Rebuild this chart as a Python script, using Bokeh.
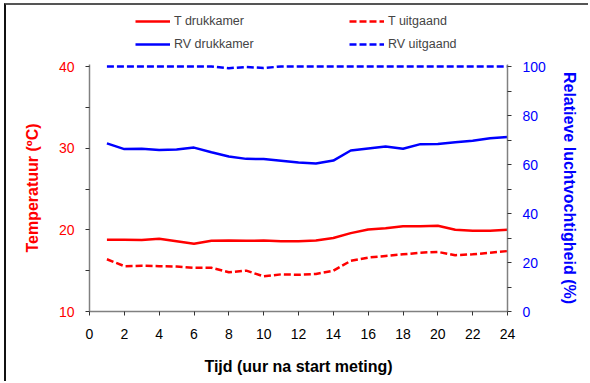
from bokeh.plotting import figure
from bokeh.layouts import column
from bokeh.models import Range1d, LinearAxis, FixedTicker, Legend, LegendItem, ColumnDataSource
from bokeh.embed import file_html
from bokeh.resources import INLINE

# ---- data ----
hours = list(range(1, 25))
t_drukkamer = [18.8, 18.8, 18.75, 18.9, 18.6, 18.3, 18.65, 18.7, 18.65, 18.7, 18.6, 18.6,
               18.7, 19.0, 19.6, 20.05, 20.2, 20.45, 20.45, 20.5, 20.0, 19.9, 19.9, 20.0]
t_uitgaand = [16.4, 15.55, 15.6, 15.55, 15.5, 15.35, 15.35, 14.8, 15.0, 14.3, 14.55, 14.5,
              14.6, 15.0, 16.2, 16.6, 16.8, 17.0, 17.2, 17.3, 16.9, 17.0, 17.2, 17.4]
rv_drukkamer = [68.6, 66.3, 66.4, 65.9, 66.1, 66.9, 65.0, 63.3, 62.3, 62.2, 61.5, 60.8,
                60.4, 61.6, 65.7, 66.5, 67.3, 66.4, 68.3, 68.4, 69.1, 69.7, 70.7, 71.2]
rv_uitgaand = [100, 100, 100, 100, 100, 100, 100, 99.3, 99.8, 99.4, 100, 100,
               100, 100, 100, 100, 100, 100, 100, 100, 100, 100, 100, 100]
series_labels = ["T drukkamer", "T uitgaand", "RV drukkamer", "RV uitgaand"]
x_ticks = list(range(0, 25, 2))
t_ticks = [10, 20, 30, 40]
t_minor = [15, 25, 35]
rv_ticks = [0, 20, 40, 60, 80, 100]
rv_minor = [10, 30, 50, 70, 90]

RED = "#FF0000"
BLUE = "#0000FF"
FONT = "Liberation Sans"
DASH = "7 3"
LW = 2.5

# frame is 245 px for 30 degC; 2 px extra on top so the 100 % line is not clipped
T_TOP = 40 + 2 * 30 / 245
RV_TOP = (T_TOP - 10) * 100 / 30

src = ColumnDataSource(dict(x=hours, td=t_drukkamer, tu=t_uitgaand, rd=rv_drukkamer, ru=rv_uitgaand))

# ---------------- legend strip ----------------
# same series, but in a y range where they stay out of view: only their legend glyphs show
lf = figure(width=584, height=50, output_backend="svg", toolbar_location=None,
            x_range=Range1d(0, 24), y_range=Range1d(1000, 1001),
            x_axis_location=None, y_axis_location=None,
            min_border_left=0, min_border_right=0, min_border_top=0, min_border_bottom=0,
            styles={"border-left": "2px solid #111111", "border-top": "2px solid #555555",
                    "margin-left": "4px", "margin-top": "3px"})
lf.outline_line_color = None
lf.grid.visible = False
lf.border_fill_color = "white"
d1 = lf.line("x", "td", source=src, line_color=RED, line_width=LW)
d2 = lf.line("x", "tu", source=src, line_color=RED, line_width=LW, line_dash=DASH)
d3 = lf.line("x", "rd", source=src, line_color=BLUE, line_width=LW)
d4 = lf.line("x", "ru", source=src, line_color=BLUE, line_width=LW, line_dash=DASH)

def make_legend(items, x):
    return Legend(items=items, location=(x, 1), orientation="vertical",
                  padding=0, margin=0, spacing=3, glyph_width=35, glyph_height=20,
                  label_standoff=4, border_line_color=None, background_fill_alpha=0,
                  label_text_font=FONT, label_text_font_size="12.5px")

lf.add_layout(make_legend([LegendItem(label=series_labels[0], renderers=[d1]),
                           LegendItem(label=series_labels[2], renderers=[d3])], 46), "center")
lf.add_layout(make_legend([LegendItem(label=series_labels[1], renderers=[d2]),
                           LegendItem(label=series_labels[3], renderers=[d4])], 260), "center")

# ---------------- main chart ----------------
p = figure(width=584, height=328, output_backend="svg", toolbar_location=None,
           x_range=Range1d(0, 24), y_range=Range1d(10, T_TOP),
           min_border_left=83, min_border_right=83, min_border_top=11, min_border_bottom=70,
           x_axis_label="Tijd (uur na start meting)", y_axis_label="Temperatuur (ºC)",
           styles={"border-left": "2px solid #111111", "margin-left": "4px"})
p.extra_y_ranges = {"rv": Range1d(0, RV_TOP)}
p.outline_line_color = None
p.grid.visible = False
p.background_fill_color = "white"
p.border_fill_color = "white"

p.line("x", "td", source=src, line_color=RED, line_width=LW)
p.line("x", "tu", source=src, line_color=RED, line_width=LW, line_dash=DASH)
p.line("x", "rd", source=src, line_color=BLUE, line_width=LW, y_range_name="rv")
p.line("x", "ru", source=src, line_color=BLUE, line_width=LW, line_dash=DASH, y_range_name="rv")

right = LinearAxis(y_range_name="rv", axis_label="Relatieve luchtvochtigheid (%)")
p.add_layout(right, "right")

def style_axis(ax, color, ticks, minor, label_standoff, title_standoff):
    ax.ticker = FixedTicker(ticks=ticks, minor_ticks=minor)
    ax.axis_line_color = "#808080"
    ax.axis_line_width = 1.5
    ax.major_tick_line_color = "#333333"
    ax.minor_tick_line_color = "#333333"
    ax.major_tick_in = 0
    ax.major_tick_out = 4
    ax.minor_tick_in = 0
    ax.minor_tick_out = 4
    ax.major_label_text_color = color
    ax.major_label_text_font = FONT
    ax.major_label_text_font_size = "14px"
    ax.major_label_standoff = label_standoff
    ax.axis_label_text_color = color
    ax.axis_label_text_font = FONT
    ax.axis_label_text_font_size = "16px"
    ax.axis_label_text_font_style = "bold"
    ax.axis_label_standoff = title_standoff

style_axis(p.xaxis[0], "#000000", x_ticks, [], 13, 16)
style_axis(p.yaxis[0], RED, t_ticks, t_minor, 11, 15)
style_axis(right, BLUE, rv_ticks, rv_minor, 11, 12)

layout = column(lf, p, spacing=0)
open("out.html", "w").write(file_html(layout, INLINE))
